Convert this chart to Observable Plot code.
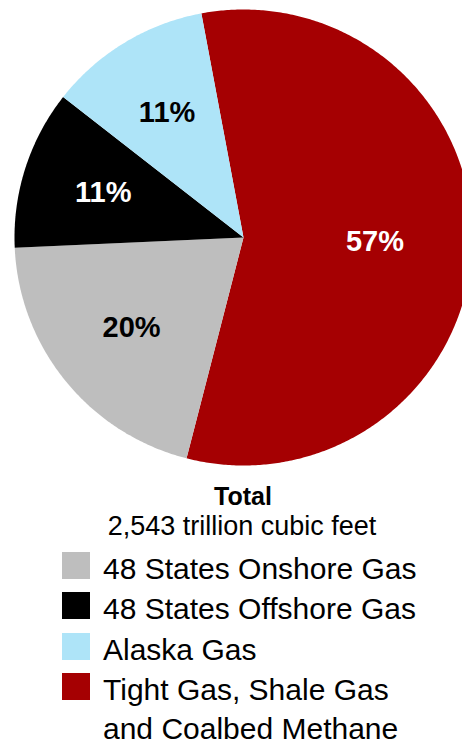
<!DOCTYPE html>
<html><head><meta charset="utf-8">
<script src="https://cdn.jsdelivr.net/npm/d3@7"></script>
<script src="https://cdn.jsdelivr.net/npm/@observablehq/plot@0.6"></script>
<style>
html,body{margin:0;padding:0;background:#fff;overflow:hidden;}
#wrap{position:relative;width:462px;height:746px;font-family:"Liberation Sans",Arial,Helvetica,sans-serif;color:#000;overflow:hidden;}
#chart{position:absolute;left:0;top:0;}
.t{position:absolute;line-height:0.9;white-space:nowrap;}
.sw{position:absolute;}
</style></head><body><div id="wrap"><div id="chart"></div></div>
<script>
// ---- data ----
const categories = ["Tight Gas, Shale Gas and Coalbed Methane", "48 States Onshore Gas", "48 States Offshore Gas", "Alaska Gas"];
const shares = [57, 20.3, 11.3, 11.5];           // estimated slice shares (%)
const sliceLabels = ["57%", "20%", "11%", "11%"];
const colors = ["#a50002", "#bebebe", "#000000", "#aee4f8"];
const legendOrder = ["48 States Onshore Gas", "48 States Offshore Gas", "Alaska Gas", "Tight Gas, Shale Gas and Coalbed Methane"];
const legendLines = [["48 States Onshore Gas"], ["48 States Offshore Gas"], ["Alaska Gas"], ["Tight Gas, Shale Gas", "and Coalbed Methane"]];
const titleText = "Total";
const subtitleText = "2,543 trillion cubic feet";

// ---- build ----
const font = '"Liberation Sans", Arial, Helvetica, sans-serif';
const startDeg = -10.6;
const data = categories.map((name, i) => ({name, share: shares[i], label: sliceLabels[i], color: colors[i]}));
const start = startDeg * Math.PI / 180;
const arcs = d3.pie().sort(null).value(d => d.share).startAngle(start).endAngle(start + 2 * Math.PI)(data);

const poly = [];
const labels = [];
arcs.forEach(a => {
  const name = a.data.name;
  poly.push({name, x: 0, y: 0});
  const n = Math.max(2, Math.ceil((a.endAngle - a.startAngle) / (Math.PI / 360)));
  for (let i = 0; i <= n; i++) {
    const t = a.startAngle + (a.endAngle - a.startAngle) * i / n;
    poly.push({name, x: Math.sin(t), y: Math.cos(t)});
  }
  poly.push({name, x: 0, y: 0});
  const mid = (a.startAngle + a.endAngle) / 2;
  const f = (a.endAngle - a.startAngle) / (2 * Math.PI);
  const r = 0.66 - 0.15 * f;
  labels.push({name, label: a.data.label, x: r * Math.sin(mid), y: r * Math.cos(mid), dark: d3.lab(a.data.color).l < 50});
});

const plot = Plot.plot({
  width: 462, height: 475, margin: 0,
  x: {domain: [-1, 1], range: [14, 472], axis: null},
  y: {domain: [-1, 1], range: [465, 9], axis: null},
  color: {domain: categories, range: colors},
  style: {background: "transparent", fontFamily: font},
  marks: [
    Plot.line(poly, {x: "x", y: "y", z: "name", fill: "name", stroke: "none", curve: "linear"}),
    Plot.text(labels.filter(d => d.dark), {x: "x", y: "y", text: "label", fill: "white", fontSize: 29, fontWeight: "bold", fontFamily: font, textAnchor: "middle"}),
    Plot.text(labels.filter(d => !d.dark), {x: "x", y: "y", text: "label", fill: "black", fontSize: 29, fontWeight: "bold", fontFamily: font, textAnchor: "middle"})
  ]
});
document.getElementById("chart").appendChild(plot);

// ---- legend (HTML below the svg) ----
const wrap = document.getElementById("wrap");
function addText(txt, size, weight, baseline, left, center) {
  const el = document.createElement("div");
  el.className = "t";
  el.textContent = txt;
  el.style.fontSize = size + "px";
  el.style.fontWeight = weight;
  el.style.top = (baseline - 0.7965 * size) + "px";
  el.style.left = left + "px";
  if (center) el.style.transform = "translateX(-50%)";
  wrap.appendChild(el);
}
addText(titleText, 25, "bold", 505, 243, true);
addText(subtitleText, 27, "normal", 536, 242, true);

const rowBaselines = [579, 619, 659.5, 699.5, 739];
let row = 0;
legendOrder.forEach((name, i) => {
  const c = colors[categories.indexOf(name)];
  const sw = document.createElement("div");
  sw.className = "sw";
  sw.style.left = "62px";
  sw.style.width = "28px";
  sw.style.height = "27px";
  sw.style.top = (rowBaselines[row] - 27) + "px";
  sw.style.background = c;
  wrap.appendChild(sw);
  legendLines[i].forEach(line => {
    addText(line, 30, "normal", rowBaselines[row], 103, false);
    row++;
  });
});
</script>
</body></html>
